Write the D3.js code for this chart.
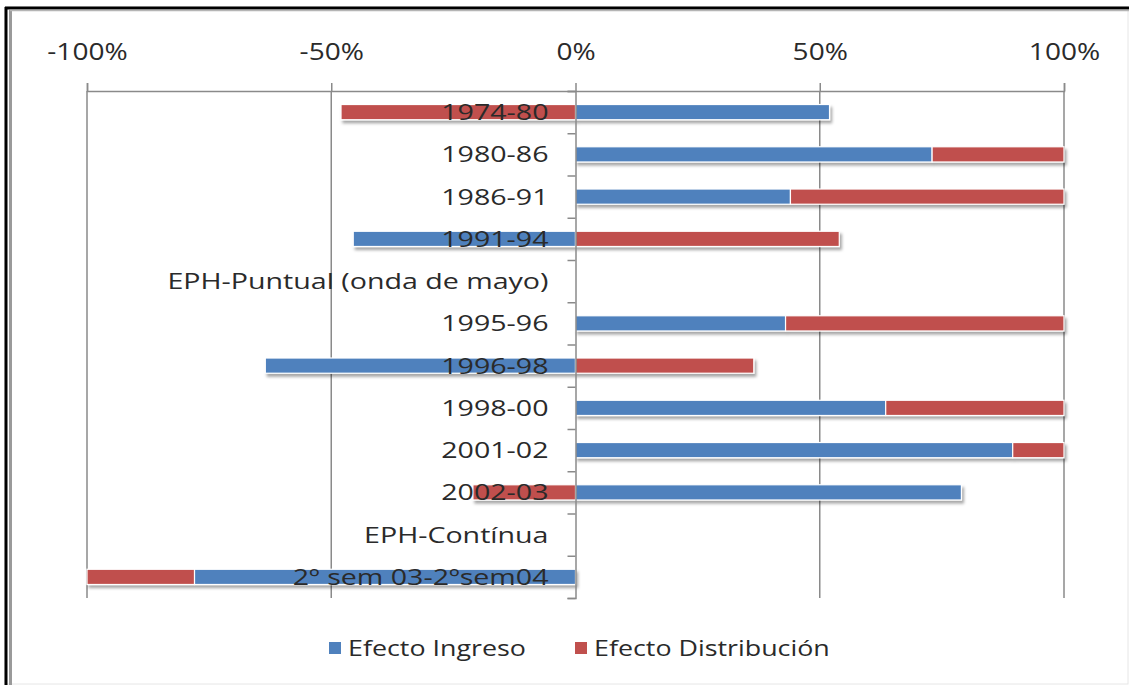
<!DOCTYPE html>
<html>
<head>
<meta charset="utf-8">
<script src="https://cdn.jsdelivr.net/npm/d3@7/dist/d3.min.js"></script>
<style>
  html, body { margin: 0; padding: 0; background: #fff; }
  svg { display: block; }
  text { font-family: "Open Sans", "Noto Sans", sans-serif; fill: #2a2a2a; }
</style>
</head>
<body>
<svg id="chart" width="1129" height="685"></svg>
<script>
// ---- data ----
const categories = ["1974-80", "1980-86", "1986-91", "1991-94", "EPH-Puntual (onda de mayo)", "1995-96",
                    "1996-98", "1998-00", "2001-02", "2002-03", "EPH-Contínua", "2º sem 03-2ºsem04"];
const efectoIngreso      = [0.52, 0.73, 0.44, -0.455, null, 0.43, -0.635, 0.635, 0.895, 0.79, null, -0.78];
const efectoDistribucion = [-0.48, 0.27, 0.56, 0.54, null, 0.57, 0.365, 0.365, 0.105, -0.21, null, -0.22];
const seriesNames = ["Efecto Ingreso", "Efecto Distribución"];
const seriesColors = ["#4F81BD", "#C0504D"];
const tickValues = [-1, -0.5, 0, 0.5, 1];
const tickLabels = ["-100%", "-50%", "0%", "50%", "100%"];

// ---- layout ----
const svg = d3.select("#chart");
const W = 1129, H = 685;
const plot = { left: 87, right: 1064, top: 91, bottom: 598 };
const SX = 1.22;  // horizontal text stretch of the original
const SXC = 1.3;  // category labels

// frame
svg.append("rect").attr("x", 5).attr("y", 7).attr("width", W - 6).attr("height", H - 8)
  .attr("fill", "none").attr("stroke", "#e6e6e6").attr("stroke-width", 1);
svg.append("line").attr("x1", 5).attr("x2", W).attr("y1", 8).attr("y2", 8).attr("stroke", "#000").attr("stroke-width", 3);
svg.append("line").attr("x1", 6).attr("x2", 6).attr("y1", 7).attr("y2", H).attr("stroke", "#000").attr("stroke-width", 3);
svg.append("line").attr("x1", 10.5).attr("x2", 10.5).attr("y1", 10).attr("y2", H).attr("stroke", "#9a9a9a").attr("stroke-width", 3);
svg.append("line").attr("x1", 10).attr("x2", W).attr("y1", 10.5).attr("y2", 10.5).attr("stroke", "#b5b5b5").attr("stroke-width", 1.5);

const x = d3.scaleLinear().domain([-1, 1]).range([plot.left, plot.right]);
const y = d3.scaleBand().domain(categories).range([plot.top, plot.bottom]).paddingInner(0.64).paddingOuter(0.32);
const yb = d3.scaleLinear().domain([0, categories.length]).range([plot.top, plot.bottom]);

// defs: shadow
const defs = svg.append("defs");
const f = defs.append("filter").attr("id", "shadow").attr("x", "-5%").attr("y", "-50%").attr("width", "110%").attr("height", "220%");
f.append("feDropShadow").attr("dx", 2).attr("dy", 3).attr("stdDeviation", 1.6)
  .attr("flood-color", "#000").attr("flood-opacity", 0.35);

// gridlines
const gridColor = "#8a8a8a";
svg.append("g").selectAll("line").data(tickValues.filter(d => d !== 0)).join("line")
  .attr("x1", d => x(d)).attr("x2", d => x(d))
  .attr("y1", plot.top).attr("y2", plot.bottom)
  .attr("stroke", gridColor).attr("stroke-width", 1.5);

// top axis
const xAxis = d3.axisTop(x).tickValues(tickValues).tickSize(8).tickPadding(23)
  .tickFormat((d, i) => tickLabels[i]);
const gx = svg.append("g").attr("transform", `translate(0,${plot.top})`).call(xAxis);
gx.select(".domain").attr("stroke", gridColor).attr("stroke-width", 1.5);
gx.selectAll(".tick line").attr("stroke", gridColor).attr("stroke-width", 1.5);
gx.selectAll(".tick text").attr("font-size", 23).attr("fill", "#2a2a2a")
  .attr("font-family", "'Open Sans', sans-serif")
  .each(function() {
    const t = d3.select(this);
    t.attr("transform", `translate(0,${+t.attr("y")}) scale(${SX},1)`).attr("y", 0);
  });

// stacked diverging bars
const table = categories.map((c, i) => ({ cat: c, "Efecto Ingreso": efectoIngreso[i] || 0, "Efecto Distribución": efectoDistribucion[i] || 0 }));
const stack = d3.stack().keys(seriesNames).offset(d3.stackOffsetDiverging);
const stacked = stack(table);

const barsG = svg.append("g").attr("filter", "url(#shadow)");
stacked.forEach((s, si) => {
  barsG.append("g").selectAll("rect").data(s.filter(d => d[1] - d[0] !== 0)).join("rect")
    .attr("x", d => x(Math.min(d[0], d[1])))
    .attr("width", d => Math.abs(x(d[1]) - x(d[0])))
    .attr("y", d => y(d.data.cat))
    .attr("height", y.bandwidth())
    .attr("fill", seriesColors[si])
    .attr("stroke", "#fff").attr("stroke-width", 1.2);
});

// zero category axis
const yAxis = d3.axisLeft(yb).tickValues(d3.range(categories.length + 1)).tickSize(8).tickFormat("");
const gy = svg.append("g").attr("transform", `translate(${x(0)},0)`).call(yAxis);
gy.select(".domain").attr("stroke", gridColor).attr("stroke-width", 1.5);
gy.selectAll(".tick line").attr("stroke", gridColor).attr("stroke-width", 1.5);

// category labels
svg.append("g").selectAll("text").data(categories).join("text")
  .attr("transform", d => `translate(${x(0) - 27},${y(d) + y.bandwidth() / 2}) scale(${SXC},1)`)
  .attr("dy", "0.36em")
  .attr("text-anchor", "end")
  .attr("font-size", 22)
  .text(d => d);

// legend
const legend = svg.append("g");
const legendX = [329, 575];
seriesNames.forEach((n, i) => {
  legend.append("rect").attr("x", legendX[i]).attr("y", 642).attr("width", 12).attr("height", 12).attr("fill", seriesColors[i]);
  legend.append("text").attr("transform", `translate(${legendX[i] + 19},656) scale(${SX},1)`)
    .attr("font-size", 22).text(n);
});
</script>
</body>
</html>
